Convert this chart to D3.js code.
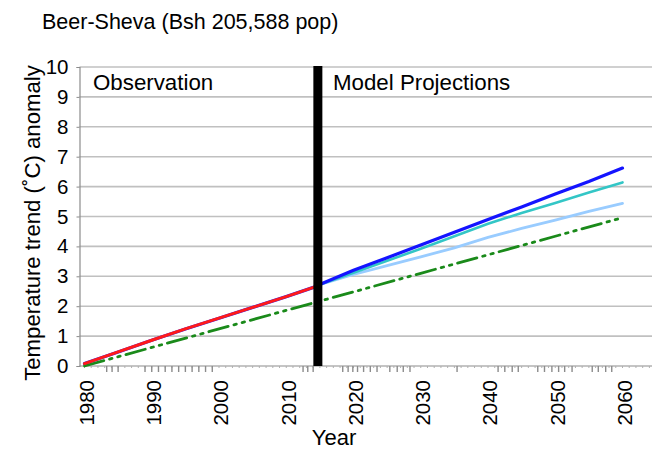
<!DOCTYPE html>
<html lang="en">
<head>
  <meta charset="utf-8">
  <title>Beer-Sheva temperature trend</title>
  <script src="https://cdnjs.cloudflare.com/ajax/libs/d3/7.8.5/d3.min.js"></script>
  <style>
    html, body { margin: 0; padding: 0; background: #fff; }
    svg { display: block; font-family: "Liberation Sans", Arial, sans-serif; }
    .grid line { stroke: #c0c0c0; stroke-width: 1.6px; }
  </style>
</head>
<body>
  <svg width="652" height="449"></svg>
  <script>
    // observed trend (red) 1980 - 2014
    const obsYears  = [1980, 1985, 1990, 1995, 2000, 2005, 2010, 2014.7];
    const obsValues = [0.08, 0.47, 0.86, 1.24, 1.6, 1.96, 2.32, 2.68];

    // model projections from the divider year
    const projYears   = [2014.7, 2020, 2025, 2030, 2035, 2040, 2045, 2050, 2055, 2060];
    const blueValues  = [2.7, 3.2, 3.62, 4.05, 4.47, 4.9, 5.32, 5.75, 6.17, 6.62];
    const cyanValues  = [2.7, 3.12, 3.52, 3.92, 4.34, 4.76, 5.12, 5.45, 5.8, 6.14];
    const lightValues = [2.7, 3.06, 3.36, 3.65, 3.95, 4.3, 4.6, 4.88, 5.17, 5.44];

    // green dash-dot-dot reference trend
    const refYears  = [1980, 1990, 2000, 2010, 2020, 2030, 2040, 2050, 2060];
    const refValues = [0, 0.62, 1.24, 1.86, 2.48, 3.1, 3.72, 4.34, 4.96];

    const dividerYear = 2014.7;
    const xTicks = [1980, 1990, 2000, 2010, 2020, 2030, 2040, 2050, 2060];
    const yTicks = [0, 1, 2, 3, 4, 5, 6, 7, 8, 9, 10];
    // odd little tick clusters on the year axis
    const clusterTicks = [1983.3, 1984.1, 1985, 1989, 1990, 1991, 1992, 1993, 1994, 1995, 1996, 1997, 1998, 1999,
      2012.5, 2013.2, 2014, 2018.4, 2019.2, 2019.9, 2020.6, 2021.5, 2022.5, 2023.5,
      2025.4, 2026.5, 2027.4, 2028.4, 2035.4, 2041.5, 2042.5, 2043.6, 2044.5,
      2047.4, 2048.4, 2049.5, 2050.5, 2051.4, 2052.5, 2055.5, 2056.4, 2057.5, 2058.4];

    const svg = d3.select("svg");
    const x = d3.scaleLinear().domain([1980, 2060]).range([84.5, 622.5]);
    const y = d3.scaleLinear().domain([0, 10]).range([366, 67]);
    const left = 79.5, right = 652;

    // gridlines
    svg.append("g").attr("class", "grid")
      .selectAll("line").data(yTicks.filter(d => d > 0)).join("line")
        .attr("x1", left).attr("x2", right)
        .attr("y1", d => y(d)).attr("y2", d => y(d));

    // y axis
    const yAxis = svg.append("g")
      .attr("transform", `translate(${left},0)`)
      .call(d3.axisLeft(y).tickValues(yTicks).tickSize(3).tickPadding(8));
    yAxis.select(".domain").attr("stroke", "#8c8c8c").attr("stroke-width", 1.2);
    yAxis.selectAll(".tick line").attr("stroke", "#8c8c8c");
    yAxis.selectAll("text").attr("font-size", 20.5).attr("fill", "#000")
      .attr("font-family", "Liberation Sans, Arial, sans-serif");

    // x axis line + ticks
    const xg = svg.append("g");
    xg.append("line").attr("x1", left).attr("x2", right)
      .attr("y1", y(0)).attr("y2", y(0)).attr("stroke", "#8c8c8c").attr("stroke-width", 1.2);
    xg.selectAll("line.minor").data(d3.range(1980, 2066)).join("line")
      .attr("class", "minor")
      .attr("x1", d => x(d)).attr("x2", d => x(d))
      .attr("y1", y(0)).attr("y2", y(0) + 2)
      .attr("stroke", "#b0b0b0").attr("stroke-width", 1);
    xg.selectAll("line.cluster").data(clusterTicks).join("line")
      .attr("class", "cluster")
      .attr("x1", d => x(d)).attr("x2", d => x(d))
      .attr("y1", y(0)).attr("y2", y(0) + 6)
      .attr("stroke", "#8c8c8c").attr("stroke-width", 1.4);
    xg.selectAll("text").data(xTicks).join("text")
      .attr("transform", d => `translate(${x(d) + 2},${y(0) + 14}) rotate(-90)`)
      .attr("text-anchor", "end").attr("dy", "0.36em")
      .attr("font-size", 20.5).text(d => d);

    // lines
    const line = (xs, vs) => d3.line().x((d, i) => x(xs[i])).y(d => y(d))(vs);
    const series = [
      { xs: obsYears, vs: obsValues, color: "#1f1fff", w: 3.2 },
      { xs: refYears, vs: refValues, color: "#1a8a1a", w: 2.8, dash: "20,6,2.5,6,2.5,6" },
      { xs: projYears, vs: lightValues, color: "#99ccff", w: 2.8 },
      { xs: projYears, vs: cyanValues, color: "#33c6c6", w: 2.6 },
      { xs: projYears, vs: blueValues, color: "#1414ff", w: 3.2 },
      { xs: obsYears, vs: obsValues, color: "#ff1a1a", w: 3 }
    ];
    svg.append("g").selectAll("path").data(series).join("path")
      .attr("d", s => line(s.xs, s.vs))
      .attr("fill", "none")
      .attr("stroke", s => s.color)
      .attr("stroke-width", s => s.w)
      .attr("stroke-dasharray", s => s.dash || null)
      .attr("stroke-linecap", "round");

    // divider bar
    svg.append("rect")
      .attr("x", x(dividerYear) - 4.5).attr("width", 9)
      .attr("y", y(10) - 1).attr("height", y(0) - y(10) + 1)
      .attr("fill", "#000");

    // texts
    svg.append("text").attr("x", 42).attr("y", 29).attr("font-size", 21.5)
      .text("Beer-Sheva (Bsh 205,588 pop)");
    svg.append("text").attr("x", 93).attr("y", 90).attr("font-size", 22.3)
      .text("Observation");
    svg.append("text").attr("x", 333).attr("y", 90).attr("font-size", 22.3)
      .text("Model Projections");
    svg.append("text").attr("x", 334).attr("y", 445).attr("font-size", 22)
      .attr("text-anchor", "middle").text("Year");
    svg.append("text")
      .attr("transform", `translate(40,223) rotate(-90)`)
      .attr("text-anchor", "middle").attr("font-size", 22.2)
      .text("Temperature trend (˚C) anomaly");
  </script>
</body>
</html>
